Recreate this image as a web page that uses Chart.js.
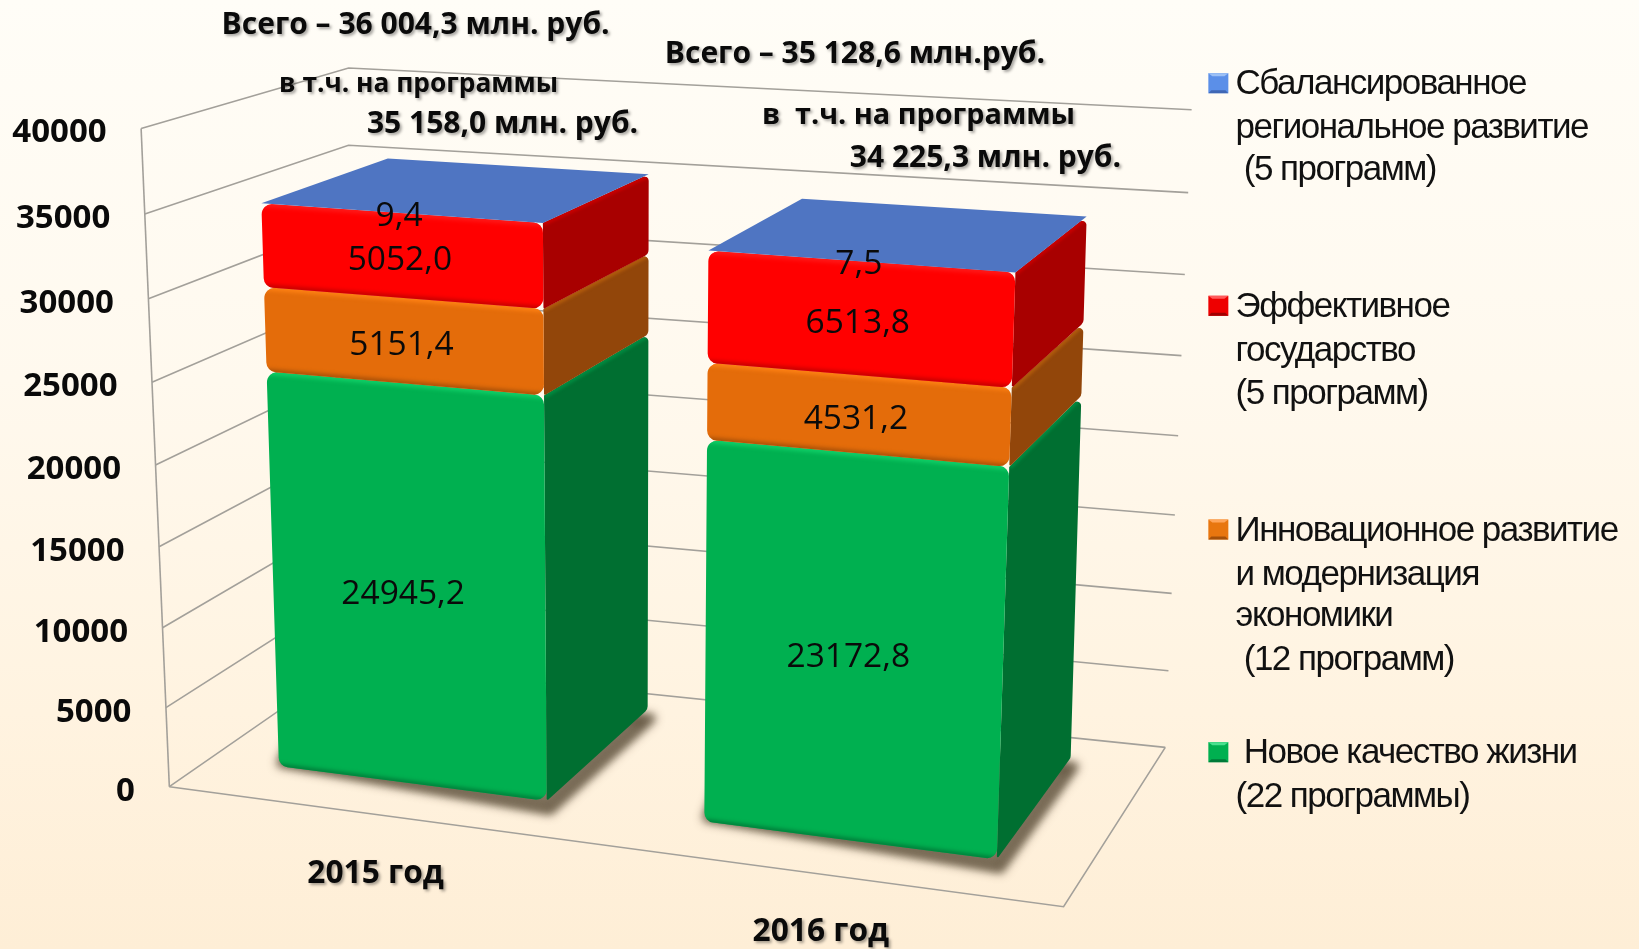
<!DOCTYPE html>
<html lang="ru"><head><meta charset="utf-8">
<style>
html,body{margin:0;padding:0;width:1639px;height:949px;overflow:hidden;
background:linear-gradient(180deg,#fffdf7 0%,#fff9ee 40%,#fff3e0 75%,#feeed6 100%);}
#c{display:block;position:absolute;left:0;top:0}
</style>
<script src="https://cdn.jsdelivr.net/npm/chart.js@4"></script>
</head><body><canvas id="c" width="1639" height="949"></canvas>
<script>
const categories = ['2015 год','2016 год'];
const seriesNames = ['Новое качество жизни','Инновационное развитие и модернизация экономики','Эффективное государство','Сбалансированное региональное развитие'];
const newQuality = [24945.2,23172.8];
const innovation = [5151.4,4531.2];
const efficient = [5052.0,6513.8];
const balanced = [9.4,7.5];
const yTicks = [0,5000,10000,15000,20000,25000,30000,35000,40000];
const legendLines = [
 ['Сбалансированное','региональное развитие',' (5 программ)'],
 ['Эффективное','государство','(5 программ)'],
 ['Инновационное развитие','и модернизация','экономики',' (12 программ)'],
 [' Новое качество жизни','(22 программы)']
];
const annotations = [
 ['Всего – 36 004,3 млн. руб.',212,24,30],
 ['Всего – 35 128,6 млн.руб.',636,52,30],
 ['в т.ч. на программы',267,81,26.3],
 ['35 158,0 млн. руб.',351,119,30],
 ['в  т.ч. на программы',729,111,28.8],
 ['34 225,3 млн. руб.',813,152,30]
];
const frontColors=['#00B050','#E46C0A','#FF0000','#4F75C2'];
const sideColors=['#006F31','#92460A','#A80000','#4F75C2'];
const sideHi=['#008A40','#B05A0C','#C80000','#4F75C2'];
const hiColors=['#10D068','#FF8214','#FF1A1A','#4F75C2'];
const loColors=['#007A38','#A34E08','#C00000','#4F75C2'];
const legendColors=['#5B8FE8','#EE0000','#E8760F','#00B050'];
const legendDark=['#3F67B5','#A00000','#A4500A','#007A38'];
const legendLight=['#9CC0F5','#FF5A5A','#FFA55A','#4AE08F'];

const S=1639/1568;
const P=(x,y)=>[x*S,y*S];
const wallBox={f0:[P(162,752.6),P(1017.5,867.4)],f1:[P(135,123),P(1043,205)],b0:[P(333,634),P(1114.8,715)],b1:[P(333.5,65),P(1140,105)],warpU:false};
const barBox={f0:[P(197.5,724),P(1035,832.8)],f1:[P(174.2,112.5),P(1060.8,166.8)],b0:[P(313.6,643.7),P(1100.8,733.8)],b1:[P(302,76),P(1122,120)],warpU:true};
function mix(a,b,k){return [a[0]+(b[0]-a[0])*k,a[1]+(b[1]-a[1])*k];}
function proj(box,u,t,v){
  const w=box.warpU?(.912*u+.088*u*u):u;
  const tt=t-.045*t*(1-t);
  const front=mix(mix(box.f0[0],box.f0[1],w),mix(box.f1[0],box.f1[1],w),tt);
  const back=mix(mix(box.b0[0],box.b0[1],w),mix(box.b1[0],box.b1[1],w),tt);
  return mix(front,back,v);
}
function roundPoly(ctx,pts,radii){
  const n=pts.length;ctx.beginPath();
  const first=mix(pts[n-1],pts[0],.5);ctx.moveTo(first[0],first[1]);
  for(let i=0;i<n;i++){const a=pts[i],b=pts[(i+1)%n];const m=mix(a,b,.5);ctx.arcTo(a[0],a[1],m[0],m[1],radii[i]);ctx.lineTo(m[0],m[1]);}
  ctx.closePath();
}
function line(ctx,pts){ctx.beginPath();pts.forEach((p,i)=>i?ctx.lineTo(p[0],p[1]):ctx.moveTo(p[0],p[1]));}
const sp={id:'scene',
 beforeDatasetsDraw(chart){
  const ctx=chart.ctx,ya=chart.scales.y,ca=chart.chartArea;
  const T=v=>(ca.bottom-ya.getPixelForValue(v))/(ca.bottom-ca.top);
  const U=px=>(px-ca.left)/(ca.right-ca.left);
  ctx.save();
  ctx.strokeStyle='#a3a09a';ctx.lineWidth=1.6;ctx.lineJoin='miter';
  yTicks.forEach(v=>{const t=T(v);line(ctx,[proj(wallBox,0,t,0),proj(wallBox,0,t,1),proj(wallBox,1,t,1)]);ctx.stroke();});
  line(ctx,[proj(wallBox,0,0,0),proj(wallBox,0,1,0)]);ctx.stroke();
  line(ctx,[proj(wallBox,0,0,0),proj(wallBox,1,0,0),proj(wallBox,1,0,1)]);ctx.stroke();
  const r=10;
  categories.forEach((_,c)=>{
   const foot=chart.getDatasetMeta(0).data[c];
   const fu0=U(foot.x-foot.width/2),fu1=U(foot.x+foot.width/2);
   // soft floor shadow: the shape itself is kept off canvas, only its shadow lands
   ctx.save();
   ctx.shadowColor='rgba(85,70,50,.72)';ctx.shadowBlur=9;ctx.shadowOffsetX=3000+3;ctx.shadowOffsetY=9;
   ctx.translate(-3000,0);
   ctx.fillStyle='#000';ctx.strokeStyle='#000';ctx.lineWidth=11;ctx.lineJoin='round';
   line(ctx,[proj(barBox,fu0,.02,0),proj(barBox,fu1,0,0),proj(barBox,fu1,0,1),proj(barBox,fu0,.1,.3)]);ctx.closePath();ctx.fill();ctx.stroke();
   ctx.restore();
   chart.data.datasets.forEach((ds,d)=>{
    const el=chart.getDatasetMeta(d).data[c];
    const u0=U(el.x-el.width/2),u1=U(el.x+el.width/2);
    const tb=(ca.bottom-el.base)/(ca.bottom-ca.top),tt=(ca.bottom-el.y)/(ca.bottom-ca.top);
    if(d===3){
      const q=[proj(barBox,u0,tt,0),proj(barBox,u1,tt,0),proj(barBox,u1,tt,1),proj(barBox,u0,tt,1)];
      ctx.fillStyle=ds.backgroundColor;line(ctx,q);ctx.closePath();ctx.fill();return;
    }
    const side=[proj(barBox,u1,tt,0),proj(barBox,u1,tt,1),proj(barBox,u1,tb,1),proj(barBox,u1,tb,0)];
    ctx.save();
    ctx.fillStyle=sideColors[d];
    roundPoly(ctx,side,[1,4,7,1]);ctx.fill();ctx.clip();
    ctx.filter='blur(1.5px)';ctx.lineWidth=6;ctx.strokeStyle=sideHi[d];
    line(ctx,[side[0],side[1]]);ctx.stroke();
    ctx.filter='none';
    ctx.restore();
    const fr=[proj(barBox,u0,tt,0),proj(barBox,u1,tt,0),proj(barBox,u1,tb,0),proj(barBox,u0,tb,0)];
    ctx.save();
    ctx.fillStyle=ds.backgroundColor;
    roundPoly(ctx,fr,[r,r,r,r]);ctx.fill();ctx.clip();
    ctx.filter='blur(2px)';
    ctx.lineWidth=6;
    ctx.strokeStyle=hiColors[d];line(ctx,[fr[0],fr[1]]);ctx.stroke();
    ctx.strokeStyle=loColors[d];ctx.lineWidth=5;line(ctx,[fr[3],fr[2]]);ctx.stroke();
    ctx.filter='none';
    ctx.restore();
   });
  });
  ctx.restore();
  return false;
 },
 afterDraw(chart){
  const ctx=chart.ctx,ya=chart.scales.y,ca=chart.chartArea;
  const T=v=>(ca.bottom-ya.getPixelForValue(v))/(ca.bottom-ca.top);
  const U=px=>(px-ca.left)/(ca.right-ca.left);
  ctx.save();ctx.textBaseline='middle';
  ctx.font='33.5px "Open Sans"';ctx.fillStyle='#0a0a0a';ctx.textAlign='center';
  chart.data.datasets.forEach((ds,d)=>{
   chart.getDatasetMeta(d).data.forEach((el,c)=>{
    const tm=(ca.bottom-(el.y+el.base)/2)/(ca.bottom-ca.top);
    const p=proj(barBox,U(el.x),tm,0);
    const s=ds.data[c].toFixed(1).replace('.',',');
    ctx.fillText(s,p[0]-(d===0?4:1),p[1]+(d===3?3.5:d===0?8:5));
   });
  });
  ctx.font='bold 33px "Open Sans"';ctx.textAlign='right';
  (ya.ticks.length?ya.ticks.map(t=>t.value):yTicks).forEach(v=>{
   const p=proj(wallBox,0,T(v),0);ctx.fillText(String(v),p[0]-33*S,p[1]+4.5);
  });
  ctx.shadowColor='rgba(0,0,0,.35)';ctx.shadowBlur=3;ctx.shadowOffsetX=2;ctx.shadowOffsetY=2;
  ctx.textAlign='left';ctx.font='bold 31.7px "Open Sans"';
  [[294,836],[720,892]].forEach((a,i)=>ctx.fillText(categories[i],a[0]*S,a[1]*S));
  annotations.forEach(a=>{ctx.font='bold '+a[3]+'px "Open Sans"';ctx.fillText(a[0],a[1]*S,a[2]*S);});
  ctx.shadowColor='transparent';ctx.shadowBlur=0;ctx.shadowOffsetX=0;ctx.shadowOffsetY=0;
  const legY=[[81,123,163],[294,336,377],[508,550,590,632],[721,763]];
  ctx.font='35px "Liberation Sans"';ctx.letterSpacing='-1.5px';ctx.fillStyle='#111';
  legendLines.forEach((ls,i)=>{
   ls.forEach((l,j)=>ctx.fillText(l,1182*S,legY[i][j]*S));
   const x=1156*S,y=legY[i][0]*S-11.5,z=20;
   ctx.fillStyle=legendColors[i];ctx.fillRect(x,y,z,z);
   ctx.fillStyle=legendLight[i];line(ctx,[[x,y],[x+z,y],[x+z-4,y+3],[x+4,y+3]]);ctx.closePath();ctx.fill();
   ctx.fillStyle=legendDark[i];line(ctx,[[x,y+z],[x+z,y+z],[x+z-3,y+z-3],[x+3,y+z-3]]);ctx.closePath();ctx.fill();
   ctx.fillStyle='#111';
  });
  ctx.restore();
 }
};
new Chart(document.getElementById('c'),{
 type:'bar',
 data:{labels:categories,datasets:[
  {label:seriesNames[0],data:newQuality,backgroundColor:frontColors[0]},
  {label:seriesNames[1],data:innovation,backgroundColor:frontColors[1]},
  {label:seriesNames[2],data:efficient,backgroundColor:frontColors[2]},
  {label:seriesNames[3],data:balanced,backgroundColor:frontColors[3]}
 ]},
 options:{responsive:false,animation:false,
  layout:{padding:0},
  plugins:{legend:{display:false},tooltip:{enabled:false}},
  datasets:{bar:{barPercentage:.64,categoryPercentage:1}},
  scales:{
   x:{stacked:true,display:false},
   y:{stacked:true,display:false,min:0,max:40000,ticks:{stepSize:5000}}
  }
 },
 plugins:[sp]
});
</script></body></html>
